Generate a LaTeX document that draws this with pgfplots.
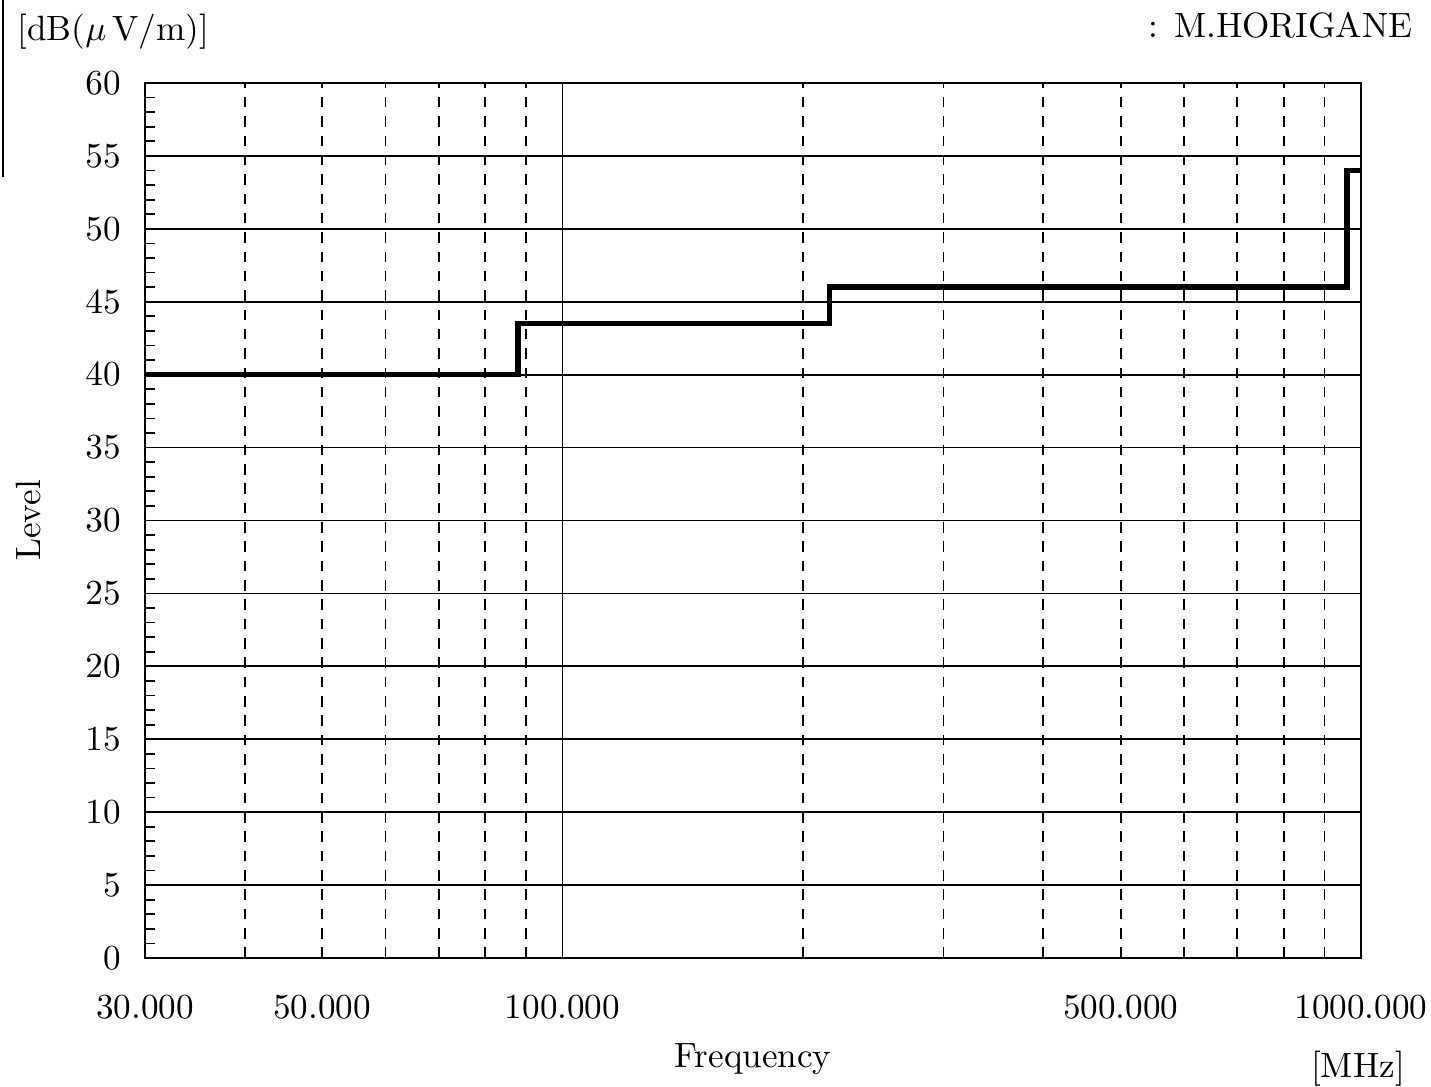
\documentclass[border=0pt]{standalone}
\usepackage{pgfplots}
\pgfplotsset{compat=1.18}
\begin{document}
\begin{tikzpicture}[x=1mm,y=1mm]
\useasboundingbox (0,0) rectangle (143.1,108.7);
\begin{axis}[
  at={(14.5mm,12.9mm)}, anchor=south west,
  scale only axis, width=121.6mm, height=87.5mm,
  xmode=log, xmin=30, xmax=1000, ymin=0, ymax=60,
  xtick={100}, xticklabels={100.000},
  minor xtick={40,50,60,70,80,90,200,300,400,500,600,700,800,900},
  extra x ticks={30,50,500,1000},
  extra x tick labels={30.000,50.000,500.000,1000.000},
  extra x tick style={grid=none, major tick length=0pt},
  ytick={0,5,...,60}, minor y tick num=4,
  xtick pos=bottom, ytick pos=left, tick align=inside,
  major tick length=1mm, minor tick length=1mm,
  xmajorgrids, xminorgrids, ymajorgrids,
  major grid style={black, line width=0.5pt},
  minor grid style={black, line width=0.5pt, dash pattern=on 3pt off 2.5pt},
  axis line style={black, line width=0.6pt},
  tick style={black, line width=0.5pt},
  tick label style={font=\normalsize},
  xticklabel style={yshift=-2.5mm},
  yticklabel style={xshift=-1.2mm},
  xlabel={Frequency}, xlabel style={yshift=0mm},
  ylabel={Level}, ylabel style={yshift=2mm},
]
\addplot[black, line width=1.6pt, const plot] coordinates {
  (30,40) (88,43.5) (216,46) (960,54) (1000,54)
};
\end{axis}
\node[anchor=west] at (0.5,105.5) {[dB($\mu$\,V/m)]};
\node at (135.8,1.8) {[MHz]};
\node[anchor=north east] at (142.5,108.7) {: M.HORIGANE};
\draw[line width=0.6pt] (0.3,91) -- (0.3,108.7);
\end{tikzpicture}
\end{document}
